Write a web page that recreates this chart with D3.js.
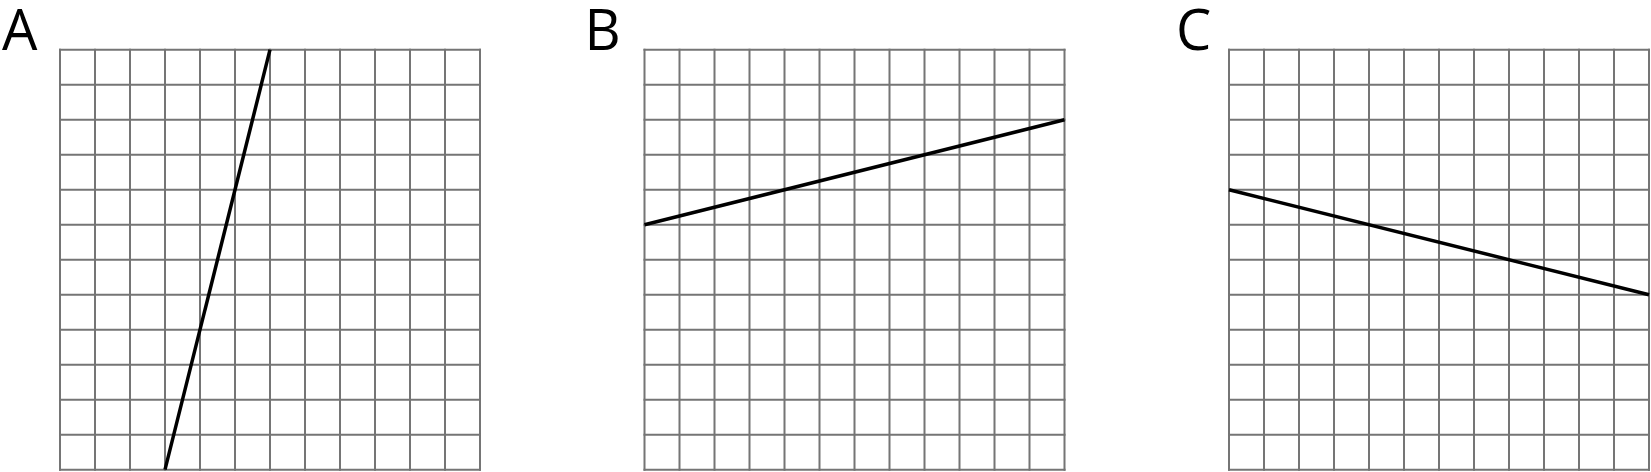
<!DOCTYPE html>
<html lang="en">
  <head>
    <meta charset="UTF-8" />
    <title>Three lines on grids</title>
    <script src="https://d3js.org/d3.v7.min.js"></script>
    <style>
      body {
        margin: 0;
        background: #fff;
      }
      .grid line {
        stroke: #757575;
        stroke-width: 2px;
      }
      .graph-line {
        fill: none;
        stroke: #000;
        stroke-width: 3.5px;
        stroke-linecap: butt;
      }
      .panel-label {
        font-family: "Open Sans", sans-serif;
        font-size: 56px;
        fill: #000;
      }
    </style>
  </head>
  <body>
    <svg width="1651" height="472"></svg>

    <script>
      // panel names and the line in each one, in grid units (x right, y up)
      const panels = ["A", "B", "C"];
      const lineStarts = [
        [3, 0],
        [0, 7],
        [0, 8],
      ];
      const lineEnds = [
        [6, 12],
        [12, 10],
        [12, 5],
      ];
      const gridCells = 12;

      const width = 1651;
      const height = 472;
      const size = 420; // grid side in px
      const gridTop = 49.7;
      const firstLeft = 60;
      const step = 584.5;
      const labelShift = [-58, -60, -53]; // glyph side bearings differ a bit

      const svg = d3.select("svg").attr("width", width).attr("height", height);

      panels.forEach((name, i) => {
        const left = firstLeft + i * step;
        const x = d3.scaleLinear().domain([0, gridCells]).range([left, left + size]);
        const y = d3.scaleLinear().domain([0, gridCells]).range([gridTop + size, gridTop]);
        const ticks = d3.range(0, gridCells + 1);

        const g = svg.append("g").attr("class", "grid");
        g.selectAll(".v")
          .data(ticks)
          .enter()
          .append("line")
          .attr("x1", (d) => x(d))
          .attr("x2", (d) => x(d))
          .attr("y1", y(0) + 1)
          .attr("y2", y(gridCells) - 1);
        g.selectAll(".h")
          .data(ticks)
          .enter()
          .append("line")
          .attr("y1", (d) => y(d))
          .attr("y2", (d) => y(d))
          .attr("x1", x(0) - 1)
          .attr("x2", x(gridCells) + 1);

        svg
          .append("path")
          .attr("class", "graph-line")
          .datum([lineStarts[i], lineEnds[i]])
          .attr(
            "d",
            d3
              .line()
              .x((d) => x(d[0]))
              .y((d) => y(d[1]))
          );

        svg
          .append("text")
          .attr("class", "panel-label")
          .attr("x", left + labelShift[i])
          .attr("y", gridTop)
          .text(name);
      });
    </script>
  </body>
</html>
